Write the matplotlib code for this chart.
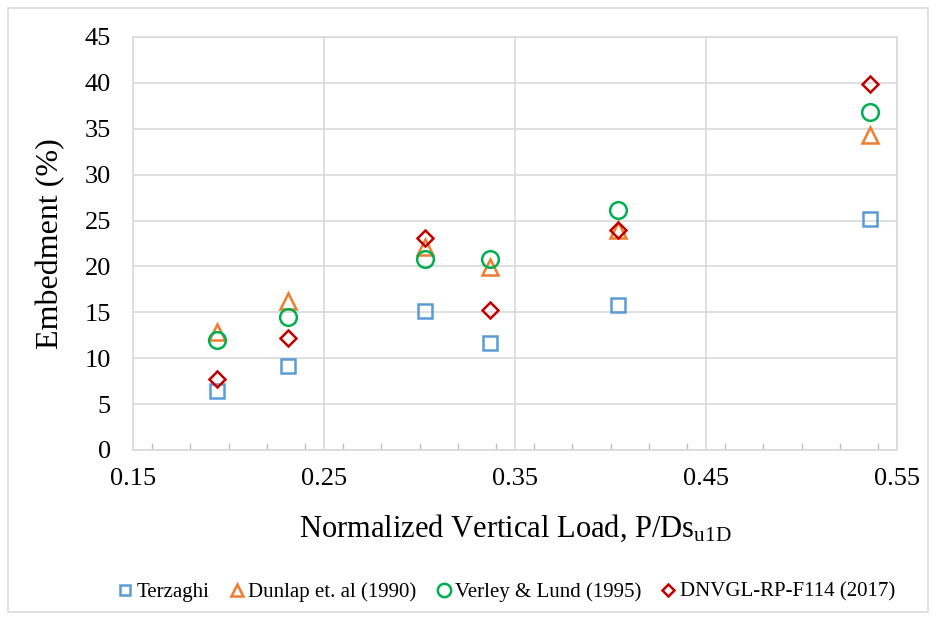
import matplotlib
matplotlib.use("Agg")
import matplotlib.pyplot as plt
from matplotlib.patches import Rectangle
from matplotlib.ticker import MultipleLocator

plt.rcParams['font.family'] = ['Liberation Serif', 'DejaVu Serif']
plt.rcParams['mathtext.fontset'] = 'custom'
plt.rcParams['mathtext.rm'] = 'Liberation Serif'
plt.rcParams['mathtext.it'] = 'Liberation Serif:italic'

load = [0.194, 0.231, 0.303, 0.337, 0.404, 0.536]
terzaghi = [6.4, 9.1, 15.1, 11.7, 15.8, 25.2]
dunlap = [12.9, 16.2, 22.1, 19.9, 24.0, 34.3]
verley = [12.0, 14.5, 20.8, 20.8, 26.1, 36.8]
dnvgl = [7.7, 12.2, 23.1, 15.2, 24.0, 39.9]

names = ['Terzaghi', 'Dunlap et. al (1990)', 'Verley & Lund (1995)', 'DNVGL-RP-F114 (2017)']
colors = ['#5B9BD5', '#ED7D31', '#00B050', '#C00000']
markers = ['s', '^', 'o', 'D']
sizes = [9.5, 11, 12, 8]

fig = plt.figure(figsize=(9.38, 6.23), dpi=100)
ax = fig.add_axes([133 / 938, 1 - 450 / 623, (897 - 133) / 938, (450 - 37) / 623])

for ys, name, c, m, s in zip([terzaghi, dunlap, verley, dnvgl], names, colors, markers, sizes):
    ax.plot(load, ys, linestyle='none', marker=m, markersize=s, markerfacecolor='none',
            markeredgecolor=c, markeredgewidth=1.8, label=name)

ax.set_xlim(0.15, 0.55)
ax.set_ylim(0, 45)
ax.xaxis.set_minor_locator(MultipleLocator(0.02))
ax.yaxis.set_major_locator(MultipleLocator(5))
ax.set_xticks([0.15, 0.25, 0.35, 0.45, 0.55])
ax.set_xticklabels(['0.15', '0.25', '0.35', '0.45', '0.55'])

ax.grid(True, which='major', color='#D9D9D9', linewidth=1.2)
ax.set_axisbelow(True)
for sp in ax.spines.values():
    sp.set_color('#D9D9D9')
    sp.set_linewidth(1.2)

ax.tick_params(axis='y', length=0, labelsize=19, pad=16)
ax.tick_params(axis='x', which='major', length=0, labelsize=19, pad=13)
ax.tick_params(axis='x', which='minor', direction='in', length=5, color='#BFBFBF', width=1)
ax.tick_params(axis='y', which='minor', length=0)

ax.set_xlabel('Normalized Vertical Load, P/Ds$_{\\mathrm{u1D}}$', fontsize=22, labelpad=16)
ax.set_ylabel('Embedment (%)', fontsize=23, labelpad=14)

fig.legend(loc='center', bbox_to_anchor=(505 / 938, 1 - 592 / 623), ncol=4, frameon=False,
           fontsize=15, handletextpad=0.05, columnspacing=0.8, markerscale=0.8,
           handlelength=1.0)

fig.patches.append(Rectangle((8 / 938, 1 - 612 / 623), (928 - 8) / 938, (612 - 8) / 623,
                             transform=fig.transFigure, fill=False, edgecolor='#D9D9D9',
                             linewidth=1.2))

fig.savefig('out.png', dpi=100)
